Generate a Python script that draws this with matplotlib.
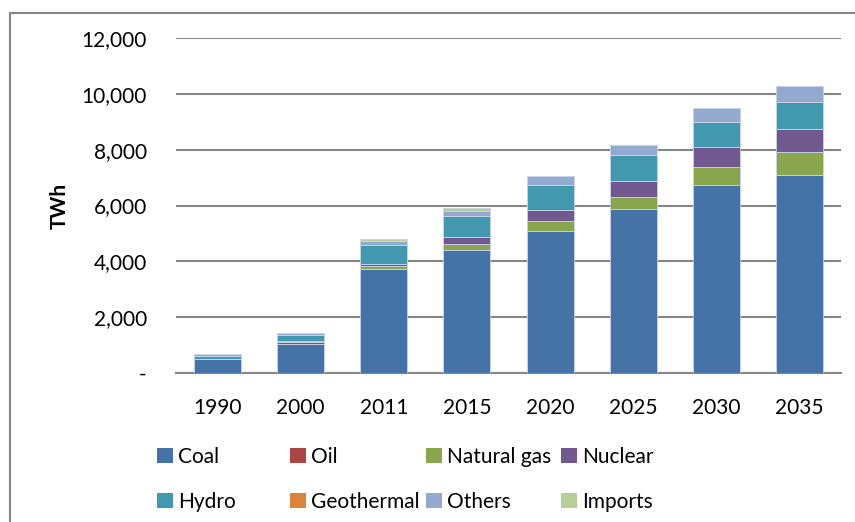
import matplotlib.pyplot as plt
import numpy as np
from matplotlib.patches import Patch, Rectangle

plt.rcParams['font.family'] = ['Lato', 'DejaVu Sans']

years = ["1990", "2000", "2011", "2015", "2020", "2025", "2030", "2035"]

# generation by source, TWh
coal = [490, 1054, 3713, 4402, 5096, 5873, 6722, 7105]
oil = [10, 60, 15, 10, 5, 0, 0, 0]
natural_gas = [15, 20, 110, 200, 345, 420, 658, 802]
nuclear = [0, 0, 84, 250, 382, 574, 706, 825]
hydro = [100, 235, 680, 778, 897, 957, 897, 969]
geothermal = [0, 0, 0, 0, 0, 0, 0, 0]
others = [70, 70, 120, 180, 335, 335, 527, 586]
imports = [0, 0, 80, 84, 0, 0, 0, 0]

series = [
    ("Coal", coal, "#4572A7"),
    ("Oil", oil, "#AA4643"),
    ("Natural gas", natural_gas, "#89A54E"),
    ("Nuclear", nuclear, "#71588F"),
    ("Hydro", hydro, "#4198AF"),
    ("Geothermal", geothermal, "#DB843D"),
    ("Others", others, "#93A9CF"),
    ("Imports", imports, "#B9CD96"),
]

FS = 15

fig = plt.figure(figsize=(8.55, 5.22), dpi=100)
ax = fig.add_axes([0.2058, 0.2854, 0.7778, 0.6418])

x = np.arange(len(years))
bottom = np.zeros(len(years))
for name, vals, color in series:
    vals = np.array(vals, dtype=float)
    ax.bar(x, vals, 0.566, bottom=bottom, color=color,
           edgecolor="#c9d5e8", linewidth=0.6, zorder=3)
    bottom += vals

ax.set_xlim(-0.5, len(years) - 0.5)
ax.set_ylim(0, 12000)
ax.set_yticks(np.arange(0, 12001, 2000))
ax.set_yticklabels(["-"] + [f"{v:,}" for v in range(2000, 12001, 2000)])
ax.set_xticks(x)
ax.set_xticklabels(years)
ax.tick_params(axis="y", length=0, pad=21, labelsize=FS)
ax.tick_params(axis="x", length=0, pad=18, labelsize=FS)

ax.grid(axis="y", color="#868686", linewidth=1.5, zorder=0)
for side in ["top", "right", "left"]:
    ax.spines[side].set_visible(False)
ax.spines["bottom"].set_color("#868686")
ax.spines["bottom"].set_linewidth(1.5)

ax.set_ylabel("TWh", fontsize=FS, fontweight="bold")
ax.yaxis.set_label_coords(-0.16, 0.5)

# legend laid out as four columns of two entries
col_x = [157, 290, 426, 561]
for i, cx in enumerate(col_x):
    entries = [series[i], series[i + 4]]
    handles = [Patch(facecolor=c, edgecolor="none") for _, _, c in entries]
    labels = [n for n, _, _ in entries]
    fig.legend(handles, labels, loc="upper left",
               bbox_to_anchor=(cx / 855, 1 - 447 / 522),
               frameon=False, fontsize=FS, borderpad=0, borderaxespad=0,
               handlelength=0.75, handleheight=0.75, handletextpad=0.25,
               labelspacing=1.2)

# outer chart frame
fig.patches.append(Rectangle((10 / 855, -0.2), 1.5, 1.2 - 13 / 522,
                             transform=fig.transFigure, fill=False,
                             edgecolor="#868686", linewidth=1.5))

fig.savefig("out.png", dpi=100)
